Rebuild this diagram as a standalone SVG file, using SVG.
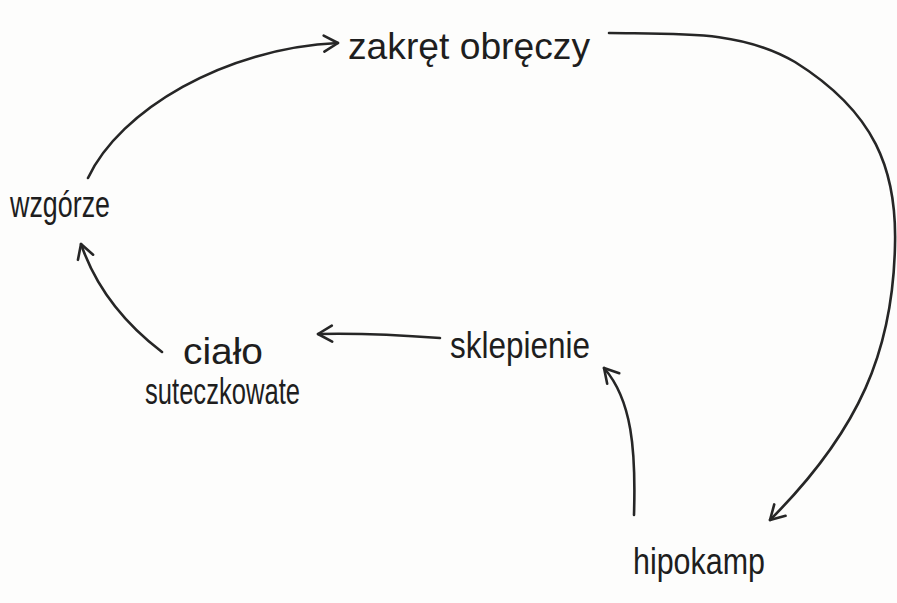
<svg xmlns="http://www.w3.org/2000/svg" width="897" height="603" viewBox="0 0 897 603">
  <style>
    .bg { fill: #fdfdfc; }
    .label { font-family: "Liberation Sans", "DejaVu Sans", sans-serif; font-size: 37px; fill: #1e1e1e; }
    .edge { fill: none; stroke: #262626; stroke-width: 2.6; stroke-linecap: round; stroke-linejoin: round; }
  </style>
  <defs>
    <marker id="arrow" viewBox="0 0 20 20" refX="17" refY="10" markerWidth="20" markerHeight="20" markerUnits="userSpaceOnUse" orient="auto">
      <path d="M3,2 L17,10 L3,18" fill="none" stroke="#262626" stroke-width="2.6" stroke-linecap="round" stroke-linejoin="round"/>
    </marker>
  </defs>
  <rect class="bg" x="0" y="0" width="897" height="603"/>

  <g id="connectors">
    <!-- wzgórze -> zakręt obręczy -->
    <path class="edge" marker-end="url(#arrow)" d="M88,178 C120,110 225,48 338,43"/>
    <!-- zakręt obręczy -> hipokamp -->
    <path class="edge" marker-end="url(#arrow)" d="M609,33 C680,34 740,30 795,62 C875,112 897,170 895,245 C893,350 860,430 770,520"/>
    <!-- hipokamp -> sklepienie -->
    <path class="edge" marker-end="url(#arrow)" d="M634,515 C636,450 632,400 604,368"/>
    <!-- sklepienie -> ciało suteczkowate -->
    <path class="edge" marker-end="url(#arrow)" d="M440,338 C400,335 360,333 318,334"/>
    <!-- ciało suteczkowate -> wzgórze -->
    <path class="edge" marker-end="url(#arrow)" d="M162,352 C120,320 95,285 81,244"/>
  </g>

  <g id="zakret-obreczy">
    <text class="label" x="348" y="59" textLength="242" lengthAdjust="spacingAndGlyphs">zakręt obręczy</text>
  </g>
  <g id="wzgorze">
    <text class="label" x="10" y="217" textLength="100" lengthAdjust="spacingAndGlyphs">wzgórze</text>
  </g>
  <g id="cialo-suteczkowate">
    <text class="label" x="183" y="364" textLength="80" lengthAdjust="spacingAndGlyphs">ciało</text>
    <text class="label" x="145" y="404" textLength="155" lengthAdjust="spacingAndGlyphs">suteczkowate</text>
  </g>
  <g id="sklepienie">
    <text class="label" x="450" y="358" textLength="140" lengthAdjust="spacingAndGlyphs">sklepienie</text>
  </g>
  <g id="hipokamp">
    <text class="label" x="633" y="574" textLength="132" lengthAdjust="spacingAndGlyphs">hipokamp</text>
  </g>
</svg>
